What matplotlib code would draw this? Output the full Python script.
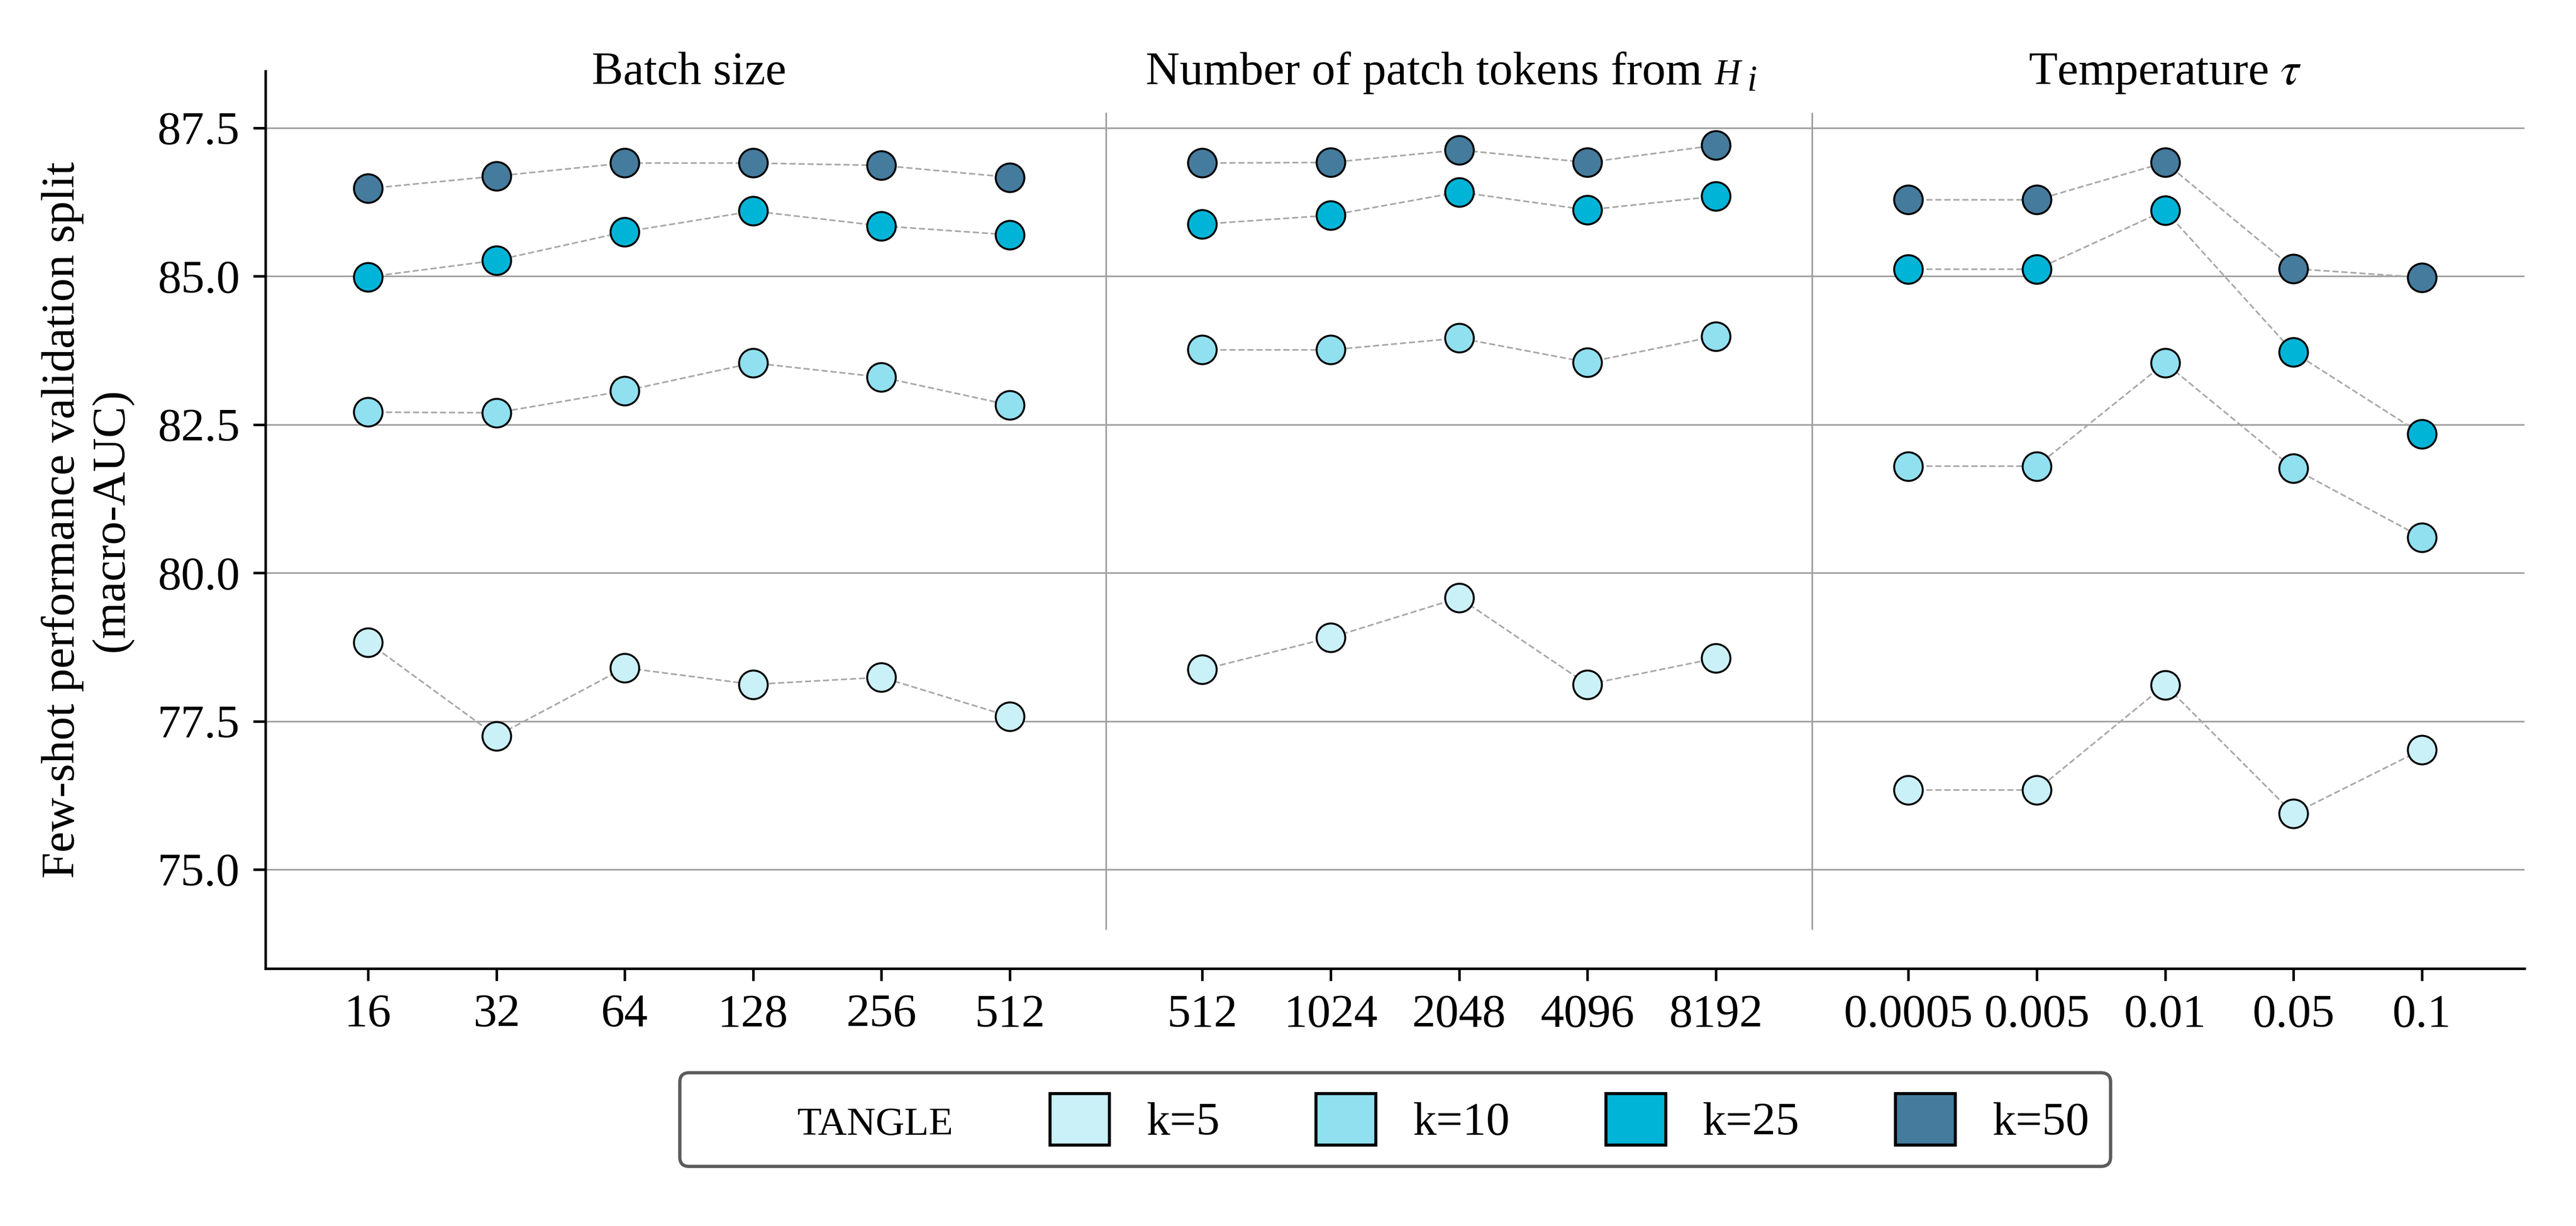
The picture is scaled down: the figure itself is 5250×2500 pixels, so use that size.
import matplotlib
matplotlib.use("Agg")
import matplotlib.pyplot as plt
from matplotlib.patches import Patch
from matplotlib.transforms import offset_copy
import numpy as np

plt.rcParams['font.family'] = ['Liberation Serif', 'DejaVu Serif']
plt.rcParams['mathtext.fontset'] = 'stix'

# ---- data ----
batch_labels = ["16", "32", "64", "128", "256", "512"]
patch_labels = ["512", "1024", "2048", "4096", "8192"]
temp_labels = ["0.0005", "0.005", "0.01", "0.05", "0.1"]

series_names = ["k=5", "k=10", "k=25", "k=50"]
series_colors = ["#caf0f8", "#90e0ef", "#00b4d8", "#457b9d"]

batch_k5 = [78.83, 77.25, 78.40, 78.12, 78.24, 77.58]
batch_k10 = [82.71, 82.70, 83.07, 83.54, 83.30, 82.83]
batch_k25 = [84.99, 85.27, 85.75, 86.10, 85.85, 85.70]
batch_k50 = [86.48, 86.69, 86.91, 86.91, 86.87, 86.67]

patch_k5 = [78.37, 78.91, 79.58, 78.12, 78.56]
patch_k10 = [83.76, 83.76, 83.96, 83.55, 83.99]
patch_k25 = [85.88, 86.03, 86.42, 86.12, 86.35]
patch_k50 = [86.91, 86.92, 87.13, 86.92, 87.21]

temp_k5 = [76.34, 76.34, 78.11, 75.94, 77.02]
temp_k10 = [81.80, 81.80, 83.54, 81.76, 80.60]
temp_k25 = [85.12, 85.12, 86.11, 83.72, 82.34]
temp_k50 = [86.29, 86.29, 86.92, 85.13, 84.98]

groups = [
    (batch_labels, [batch_k5, batch_k10, batch_k25, batch_k50]),
    (patch_labels, [patch_k5, patch_k10, patch_k25, patch_k50]),
    (temp_labels, [temp_k5, temp_k10, temp_k25, temp_k50]),
]

yticks = [75.0, 77.5, 80.0, 82.5, 85.0, 87.5]
FS = 23

# ---- figure ----
fig = plt.figure(figsize=(17.5, 2500 / 300), dpi=300)
ax = fig.add_axes([0.1030, 0.21, 0.980 - 0.1030, 0.942 - 0.21])

gap = 1.5
start = 0.0
all_pos, all_labels = [], []
dividers = []
centers = []
for gi, (labels, series) in enumerate(groups):
    xs = start + np.arange(len(labels))
    centers.append(xs.mean())
    all_pos.extend(xs)
    all_labels.extend(labels)
    for si, vals in enumerate(series):
        ax.plot(xs, vals, color="#a8a8a8", lw=0.8, dashes=(3.75, 1.75), zorder=2)
        ax.plot(xs, vals, ls="none", marker="o", markersize=14,
                markerfacecolor=series_colors[si], markeredgecolor="black",
                markeredgewidth=0.95, zorder=3)
    if gi < len(groups) - 1:
        dividers.append(xs[-1] + gap / 2)
    start = xs[-1] + gap

for yv in yticks:
    ax.axhline(yv, color="#a0a0a0", lw=0.8, zorder=1)
for xd in dividers:
    ax.plot([xd, xd], [74.0, 87.75], color="#a0a0a0", lw=0.8, zorder=1)

ax.set_xlim(-0.8, 16.8)
ax.set_ylim(73.33, 88.46)
ax.set_xticks(all_pos)
ax.set_xticklabels(all_labels, fontsize=FS)
ax.set_yticks(yticks)
ax.set_yticklabels([f"{v:.1f}" for v in yticks], fontsize=FS)
ax.tick_params(axis="both", length=6, width=1.25, pad=6.5)

for s in ["top", "right"]:
    ax.spines[s].set_visible(False)
for s in ["left", "bottom"]:
    ax.spines[s].set_linewidth(1.25)

TY = 88.24
# simple titles
ax.text(centers[0], TY, "Batch size", ha="center", va="baseline", fontsize=FS, clip_on=False)
ax.text(centers[2], TY, r"Temperature $\tau$", ha="center", va="baseline", fontsize=FS, clip_on=False)

# composite title: "Number of patch tokens from H i"
fig.canvas.draw()
renderer = fig.canvas.get_renderer()
t1 = ax.text(0, TY, "Number of patch tokens from", ha="left", va="baseline",
             fontsize=FS, clip_on=False)
w1 = t1.get_window_extent(renderer).width
t2 = ax.text(0, TY, "H", ha="left", va="baseline", fontsize=17.5, style="italic",
             clip_on=False)
w2 = t2.get_window_extent(renderer).width
t3 = ax.text(0, TY, "i", ha="left", va="baseline", fontsize=17.5, style="italic",
             clip_on=False)
w3 = t3.get_window_extent(renderer).width
gap1, gap2 = 26, 13
total = w1 + gap1 + w2 + gap2 + w3
cx_disp = ax.transData.transform((centers[1] - 0.06, TY))[0]
x0_disp = cx_disp - total / 2
x0 = ax.transData.inverted().transform((x0_disp, 0))[0]
t1.set_x(x0)
t2.set_x(x0)
t3.set_x(x0)
t2.set_transform(offset_copy(ax.transData, fig=fig, x=w1 + gap1, y=0, units="dots"))
t3.set_transform(offset_copy(ax.transData, fig=fig, x=w1 + gap1 + w2 + gap2, y=-13, units="dots"))

ax.set_ylabel("Few-shot performance validation split\n(macro-AUC)", fontsize=FS, labelpad=12)

handles = [Patch(facecolor="none", edgecolor="none")] + [
    Patch(facecolor=c, edgecolor="black", lw=1.5) for c in series_colors]
labels = ["TANGLE"] + series_names
leg = fig.legend(handles, labels, loc="upper center",
                 bbox_to_anchor=((0.1030 + 0.980) / 2, 0.1252),
                 ncol=5, fontsize=FS, frameon=True, fancybox=True,
                 handlelength=1.27, handleheight=1.3, handletextpad=0.78,
                 columnspacing=2.05, borderpad=0.45, borderaxespad=0.0)
leg.get_frame().set_edgecolor("#333333")
leg.get_frame().set_linewidth(1.6)
leg.get_texts()[0].set_fontsize(19.5)

fig.savefig("out.png", dpi=300)
